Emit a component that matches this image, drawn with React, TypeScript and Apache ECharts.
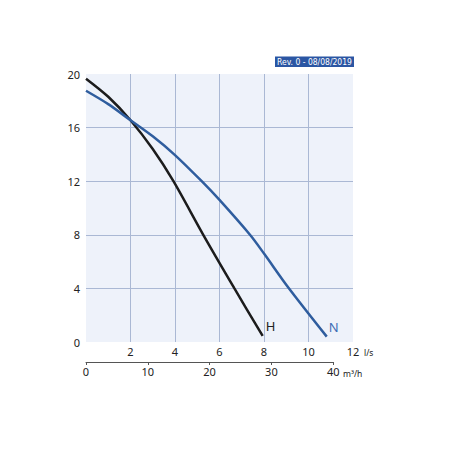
import React, { useEffect, useRef } from "react";
import * as echarts from "echarts";

const flowTicksLs = [0, 2, 4, 6, 8, 10, 12];
const flowTicksM3h = [0, 10, 20, 30, 40];
const headTicks = [0, 4, 8, 12, 16, 20];

const curveH: [number, number][] = [
  [0, 19.65], [1, 18.3], [2, 16.55], [3, 14.4], [3.93, 12],
  [5.27, 8], [6.67, 4], [7.94, 0.45],
];
const curveN: [number, number][] = [
  [0, 18.75], [1, 17.75], [2, 16.55], [3, 15.35], [4, 13.95], [5.2, 12],
  [6, 10.6], [7.37, 8], [8, 6.6], [9.1, 4.05], [10.82, 0.4],
];
const revText = "Rev. 0 - 08/08/2019";

const FONT = "'Noto Sans', 'Open Sans', sans-serif";

export default function App() {
  const ref = useRef<HTMLDivElement>(null);
  useEffect(() => {
    if (!ref.current) return;
    const chart = echarts.init(ref.current, undefined, { renderer: "svg" });
    const lsMax = flowTicksLs[flowTicksLs.length - 1];
    const m3hMax = flowTicksM3h[flowTicksM3h.length - 1];
    const plotLeft = 86;
    const plotWidth = 267;
    const m3hWidth = (plotWidth * (m3hMax / 3.6)) / lsMax;
    chart.setOption({
      animation: false,
      grid: [
        {
          left: plotLeft, top: 74, width: plotWidth, height: 268,
          show: true, backgroundColor: "#eef2fa", borderWidth: 0,
        },
        { left: plotLeft, top: 362, width: m3hWidth, height: 0, show: false },
      ],
      xAxis: [
        {
          gridIndex: 0, type: "value", min: 0, max: lsMax, interval: 2,
          axisLine: { show: false }, axisTick: { show: false },
          axisLabel: {
            margin: 4, fontSize: 11, color: "#222", fontFamily: FONT,
            formatter: (v: number) => (v === 0 ? "" : String(v)),
          },
          splitLine: {
            show: true, showMinLine: false, showMaxLine: false,
            lineStyle: { color: "#aab8d4", width: 1 },
          },
        },
        {
          gridIndex: 1, type: "value", min: 0, max: m3hMax, interval: 10,
          axisLine: { show: true, onZero: false, lineStyle: { color: "#555", width: 1 } },
          axisTick: { show: true, length: 3, lineStyle: { color: "#555" } },
          axisLabel: { margin: 4, fontSize: 11, color: "#222", fontFamily: FONT },
          splitLine: { show: false },
        },
      ],
      yAxis: [
        {
          gridIndex: 0, type: "value", min: 0, max: headTicks[headTicks.length - 1], interval: 4,
          axisLine: { show: false }, axisTick: { show: false },
          axisLabel: { margin: 6, fontSize: 11, color: "#222", fontFamily: FONT },
          splitLine: {
            show: true, showMinLine: false, showMaxLine: false,
            lineStyle: { color: "#aab8d4", width: 1 },
          },
        },
        { gridIndex: 1, type: "value", show: false, min: 0, max: 1 },
      ],
      series: [
        {
          type: "line", name: "H", data: curveH, smooth: 0.3, showSymbol: false,
          xAxisIndex: 0, yAxisIndex: 0,
          lineStyle: { color: "#1c1c1c", width: 2.5 },
          endLabel: {
            show: true, formatter: "H", offset: [-5, -10], fontSize: 13,
            color: "#222", fontFamily: FONT,
          },
        },
        {
          type: "line", name: "N", data: curveN, smooth: 0.3, showSymbol: false,
          xAxisIndex: 0, yAxisIndex: 0,
          lineStyle: { color: "#2f5d9e", width: 2.5 },
          endLabel: {
            show: true, formatter: "N", offset: [-6, -10], fontSize: 13,
            color: "#3d6db5", fontFamily: FONT,
          },
        },
      ],
      graphic: [
        {
          type: "rect", shape: { x: 275, y: 56.5, width: 79, height: 10.5 },
          style: { fill: "#2b56a3" },
        },
        {
          type: "text", x: 314.5, y: 62,
          style: {
            text: revText, fill: "#fff", fontSize: 8.5,
            fontFamily: "'Liberation Sans Narrow', 'DejaVu Sans Condensed', sans-serif",
            align: "center", verticalAlign: "middle",
          },
        },
        {
          type: "text", x: 364, y: 352,
          style: { text: "l/s", fill: "#222", fontSize: 8.5, fontFamily: FONT, verticalAlign: "middle" },
        },
        {
          type: "text", x: 343, y: 373,
          style: { text: "m³/h", fill: "#222", fontSize: 8.5, fontFamily: FONT, verticalAlign: "middle" },
        },
      ],
    });
    return () => chart.dispose();
  }, []);
  return (
    <div
      ref={ref}
      style={{ position: "absolute", left: 0, top: 0, width: 456, height: 456, background: "#fff" }}
    />
  );
}
